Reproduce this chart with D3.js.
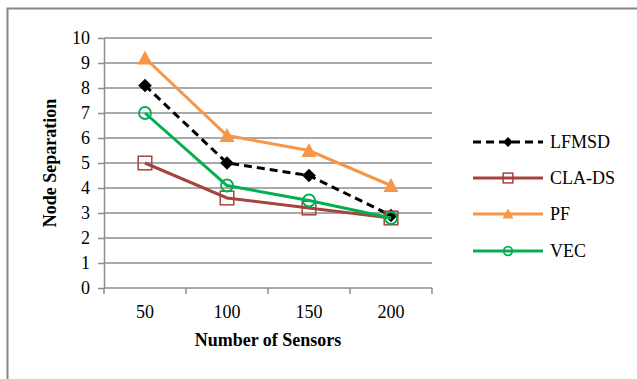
<!DOCTYPE html>
<meta charset="utf-8">
<style>
body { margin: 0; background: #fff; }
text { font-family: "Liberation Serif", "Times New Roman", serif; fill: #000; }
.grid line { stroke: #8c8c8c; stroke-width: 1.5px; }
.axis path, .axis line { stroke: #8c8c8c; stroke-width: 1.5px; }
</style>
<body>
<script src="https://cdn.jsdelivr.net/npm/d3@7"></script>
<script>
// data
var sensors = ["50", "100", "150", "200"];
var yTicks = [0, 1, 2, 3, 4, 5, 6, 7, 8, 9, 10];
var lfmsd = [8.1, 5.0, 4.5, 2.9];
var clads = [5.0, 3.6, 3.2, 2.8];
var pf = [9.2, 6.1, 5.5, 4.1];
var vec = [7.0, 4.1, 3.5, 2.8];

var series = [
  {name: "LFMSD", values: lfmsd, color: "#000000", dash: "8,5", marker: "diamond"},
  {name: "CLA-DS", values: clads, color: "#a5433f", dash: null, marker: "square"},
  {name: "PF", values: pf, color: "#f79646", dash: null, marker: "triangle"},
  {name: "VEC", values: vec, color: "#00b050", dash: null, marker: "circle"}
];

var W = 637, H = 379;
var plot = {left: 104, right: 432, top: 38, bottom: 288};
var serif = "'Liberation Serif', 'Times New Roman', serif";

var svg = d3.select("body").append("svg")
  .attr("width", W).attr("height", H);

// outer chart border
svg.append("rect")
  .attr("x", 7.5).attr("y", 8.5)
  .attr("width", W + 20).attr("height", H + 20)
  .attr("fill", "none").attr("stroke", "#868686").attr("stroke-width", 2);

var x = d3.scaleBand().domain(sensors).range([plot.left, plot.right]);
var y = d3.scaleLinear().domain([0, 10]).range([plot.bottom, plot.top]);

// horizontal gridlines
svg.append("g").attr("class", "grid")
  .selectAll("line").data(yTicks.filter(function(d) { return d > 0; }))
  .enter().append("line")
  .attr("x1", plot.left).attr("x2", plot.right)
  .attr("y1", function(d) { return y(d); })
  .attr("y2", function(d) { return y(d); });

// y axis
var yAxis = svg.append("g").attr("class", "axis")
  .attr("transform", "translate(" + plot.left + ",0)")
  .call(d3.axisLeft(y).tickValues(yTicks).tickSize(6).tickSizeOuter(0).tickPadding(8))
  .attr("font-family", serif).attr("font-size", 18);

// x axis, ticks at band boundaries
var xAxis = svg.append("g").attr("class", "axis")
  .attr("transform", "translate(0," + plot.bottom + ")")
  .call(d3.axisBottom(x).tickSize(0).tickPadding(17))
  .attr("font-family", serif).attr("font-size", 18);
xAxis.select(".domain").attr("d", "M" + plot.left + ",0H" + plot.right);
xAxis.selectAll(".bound").data(d3.range(sensors.length + 1))
  .enter().append("line").attr("class", "bound")
  .attr("x1", function(i) { return plot.left + i * x.bandwidth(); })
  .attr("x2", function(i) { return plot.left + i * x.bandwidth(); })
  .attr("y1", 0).attr("y2", 6);

// axis titles
svg.append("text")
  .attr("transform", "translate(56,163) rotate(-90)")
  .attr("text-anchor", "middle")
  .style("font-size", "18px").style("font-weight", "bold")
  .text("Node Separation");
svg.append("text")
  .attr("x", (plot.left + plot.right) / 2).attr("y", 346)
  .attr("text-anchor", "middle")
  .style("font-size", "18px").style("font-weight", "bold")
  .text("Number of Sensors");

function drawMarker(g, s, cx, cy, small) {
  var k = small ? 0.72 : 1;
  if (s.marker === "diamond") {
    var r = 6.8 * k;
    g.append("path").attr("d", "M" + cx + "," + (cy - r) + "L" + (cx + r) + "," + cy +
      "L" + cx + "," + (cy + r) + "L" + (cx - r) + "," + cy + "Z")
      .attr("fill", s.color);
  } else if (s.marker === "square") {
    var h = 6.8 * k;
    g.append("rect").attr("x", cx - h).attr("y", cy - h)
      .attr("width", 2 * h).attr("height", 2 * h)
      .attr("fill", "none").attr("stroke", s.color).attr("stroke-width", 1.5);
  } else if (s.marker === "triangle") {
    var t = 7.5 * k;
    g.append("path").attr("d", "M" + cx + "," + (cy - t) + "L" + (cx + t) + "," + (cy + t * 0.85) +
      "L" + (cx - t) + "," + (cy + t * 0.85) + "Z")
      .attr("fill", s.color);
  } else {
    g.append("circle").attr("cx", cx).attr("cy", cy).attr("r", 6 * k)
      .attr("fill", "none").attr("stroke", s.color).attr("stroke-width", 1.8);
  }
}

var line = d3.line()
  .x(function(d, i) { return x(sensors[i]) + x.bandwidth() / 2; })
  .y(function(d) { return y(d); });

series.forEach(function(s) {
  var g = svg.append("g");
  g.append("path").datum(s.values)
    .attr("d", line)
    .attr("fill", "none")
    .attr("stroke", s.color)
    .attr("stroke-width", 3)
    .attr("stroke-dasharray", s.dash);
  s.values.forEach(function(v, i) {
    drawMarker(g, s, x(sensors[i]) + x.bandwidth() / 2, y(v), false);
  });
});

// legend
var legendRows = [142, 178, 214, 251];
series.forEach(function(s, i) {
  var g = svg.append("g").attr("transform", "translate(0," + legendRows[i] + ")");
  g.append("line").attr("x1", 473).attr("x2", 543).attr("y1", 0).attr("y2", 0)
    .attr("stroke", s.color).attr("stroke-width", 3)
    .attr("stroke-dasharray", s.dash);
  drawMarker(g, s, 508, 0, true);
  g.append("text").attr("x", 550).attr("y", 6)
    .style("font-size", "18px").text(s.name);
});
</script>
</body>
